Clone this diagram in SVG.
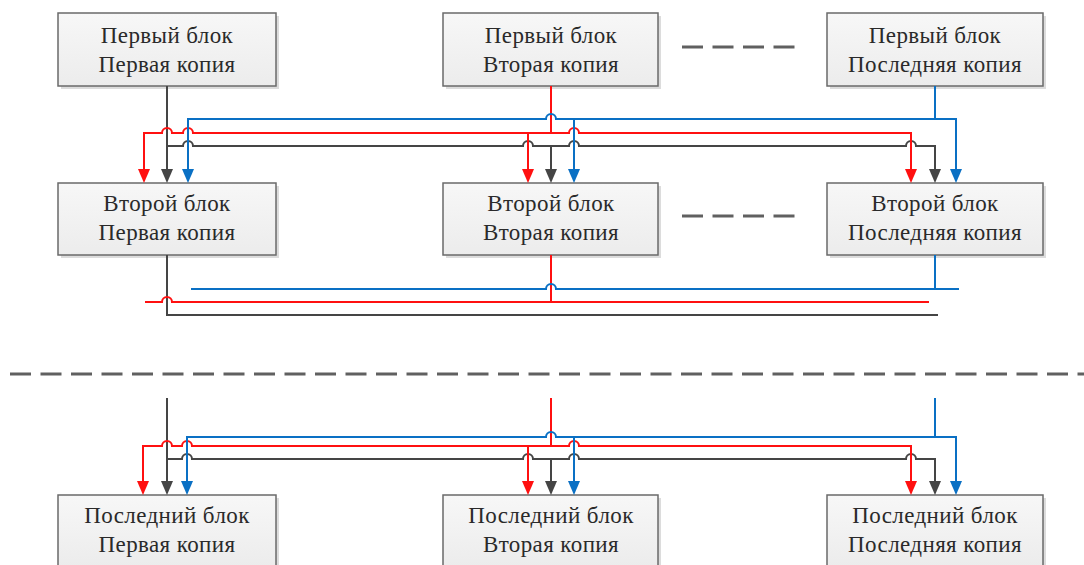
<svg xmlns="http://www.w3.org/2000/svg" width="1084" height="565" viewBox="0 0 1084 565">
<style>
.box{fill:url(#bg);stroke:#6a6a6a;stroke-width:1.5}
.sh{fill:#dcdcdc}
.t{font-family:'Liberation Serif','Times New Roman',serif;font-size:23px;letter-spacing:0.4px;fill:#2a2a2a;text-anchor:middle}
.r{fill:none;stroke:#ff1010;stroke-width:2}
.b{fill:none;stroke:#0a70c4;stroke-width:2}
.k{fill:none;stroke:#454545;stroke-width:2}
.ra{marker-end:url(#mr)}
.ba{marker-end:url(#mb)}
.ka{marker-end:url(#mk)}
.dash{fill:none;stroke:#606060;stroke-width:3;stroke-dasharray:21 9.5}
</style>
<defs>
<linearGradient id="bg" x1="0" y1="0" x2="0" y2="1">
<stop offset="0" stop-color="#f7f7f7"/>
<stop offset="1" stop-color="#ececec"/>
</linearGradient>
<marker id="mr" markerUnits="userSpaceOnUse" markerWidth="14" markerHeight="12" refX="6" refY="6" orient="auto" viewBox="0 0 14 12"><path d="M0,0 L14,6 L0,12 z" fill="#ff1010"/></marker>
<marker id="mb" markerUnits="userSpaceOnUse" markerWidth="14" markerHeight="12" refX="6" refY="6" orient="auto" viewBox="0 0 14 12"><path d="M0,0 L14,6 L0,12 z" fill="#0a70c4"/></marker>
<marker id="mk" markerUnits="userSpaceOnUse" markerWidth="14" markerHeight="12" refX="6" refY="6" orient="auto" viewBox="0 0 14 12"><path d="M0,0 L14,6 L0,12 z" fill="#454545"/></marker>
</defs>
<rect width="1084" height="565" fill="#ffffff"/>

<g id="n11"><rect class="sh" x="61" y="16" width="218" height="73"/><rect class="box" x="58" y="13" width="218" height="73"/><text class="t" x="167" y="43">Первый блок</text><text class="t" x="167" y="72">Первая копия</text></g>
<g id="n12"><rect class="sh" x="446" y="16" width="215" height="73"/><rect class="box" x="443" y="13" width="215" height="73"/><text class="t" x="551" y="43">Первый блок</text><text class="t" x="551" y="72">Вторая копия</text></g>
<g id="n13"><rect class="sh" x="830" y="16" width="216" height="73"/><rect class="box" x="827" y="13" width="216" height="73"/><text class="t" x="935" y="43">Первый блок</text><text class="t" x="935" y="72">Последняя копия</text></g>

<g id="n21"><rect class="sh" x="61" y="186" width="218" height="72"/><rect class="box" x="58" y="183" width="218" height="72"/><text class="t" x="167" y="211">Второй блок</text><text class="t" x="167" y="240">Первая копия</text></g>
<g id="n22"><rect class="sh" x="446" y="186" width="215" height="72"/><rect class="box" x="443" y="183" width="215" height="72"/><text class="t" x="551" y="211">Второй блок</text><text class="t" x="551" y="240">Вторая копия</text></g>
<g id="n23"><rect class="sh" x="830" y="186" width="216" height="72"/><rect class="box" x="827" y="183" width="216" height="72"/><text class="t" x="935" y="211">Второй блок</text><text class="t" x="935" y="240">Последняя копия</text></g>

<g id="n31"><rect class="sh" x="61" y="498" width="218" height="72"/><rect class="box" x="58" y="495" width="218" height="72"/><text class="t" x="167" y="523">Последний блок</text><text class="t" x="167" y="552">Первая копия</text></g>
<g id="n32"><rect class="sh" x="446" y="498" width="215" height="72"/><rect class="box" x="443" y="495" width="215" height="72"/><text class="t" x="551" y="523">Последний блок</text><text class="t" x="551" y="552">Вторая копия</text></g>
<g id="n33"><rect class="sh" x="830" y="498" width="216" height="72"/><rect class="box" x="827" y="495" width="216" height="72"/><text class="t" x="935" y="523">Последний блок</text><text class="t" x="935" y="552">Последняя копия</text></g>

<g id="separators">
<line class="dash" x1="682" y1="47" x2="797" y2="47"/>
<line class="dash" x1="682" y1="216" x2="797" y2="216"/>
<line class="dash" x1="10" y1="374" x2="1084" y2="374"/>
</g>

<g id="connectors">
<path class="k ka" d="M167,86 V175"/>
<path class="k ka" d="M167,146 H183 A5,5 0 0 1 193,146 H523 A5,5 0 0 1 533,146 H569 A5,5 0 0 1 579,146 H906 A5,5 0 0 1 916,146 H935 V175"/>
<path class="k ka" d="M551,146 V175"/>
<path class="r" d="M551,86 V133"/>
<path class="r ra" d="M144,175 V133 H162 A5,5 0 0 1 172,133 H183 A5,5 0 0 1 193,133 H569 A5,5 0 0 1 579,133 H911 V175"/>
<path class="r ra" d="M144,160 V175"/>
<path class="r ra" d="M528,133 V175"/>
<path class="b" d="M935,86 V119"/>
<path class="b ba" d="M188,175 V119 H546 A5,5 0 0 1 556,119 H956 V175"/>
<path class="b ba" d="M188,160 V175"/>
<path class="b ba" d="M574,119 V175"/>
<path class="k" d="M167,255 V315 H938"/>
<path class="r" d="M551,255 V302"/>
<path class="r" d="M145,302 H162 A5,5 0 0 1 172,302 H929"/>
<path class="b" d="M935,255 V289"/>
<path class="b" d="M191,289 H546 A5,5 0 0 1 556,289 H959"/>
<path class="k ka" d="M167,398 V487"/>
<path class="k ka" d="M167,459 H182 A5,5 0 0 1 192,459 H523 A5,5 0 0 1 533,459 H569 A5,5 0 0 1 579,459 H906 A5,5 0 0 1 916,459 H935 V487"/>
<path class="k ka" d="M551,459 V487"/>
<path class="r" d="M551,398 V446"/>
<path class="r ra" d="M143,487 V446 H162 A5,5 0 0 1 172,446 H182 A5,5 0 0 1 192,446 H569 A5,5 0 0 1 579,446 H911 V487"/>
<path class="r ra" d="M143,470 V487"/>
<path class="r ra" d="M528,446 V487"/>
<path class="b" d="M935,398 V437"/>
<path class="b ba" d="M187,487 V437 H546 A5,5 0 0 1 556,437 H956 V487"/>
<path class="b ba" d="M187,470 V487"/>
<path class="b ba" d="M574,437 V487"/>
</g>
</svg>
